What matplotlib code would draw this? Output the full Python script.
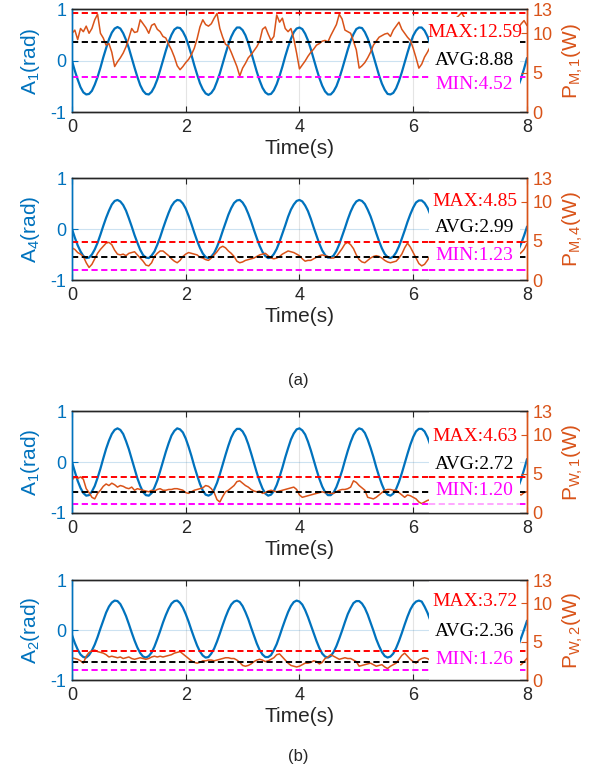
import numpy as np
import matplotlib
matplotlib.use("Agg")
import matplotlib.pyplot as plt
from matplotlib.patches import Rectangle

plt.rcParams['font.family'] = ['Liberation Sans', 'DejaVu Sans']
plt.rcParams['mathtext.fontset'] = 'custom'
plt.rcParams['mathtext.rm'] = 'Liberation Sans'
plt.rcParams['mathtext.it'] = 'Liberation Sans:italic'
plt.rcParams['axes.unicode_minus'] = False

BLUE = '#0072BD'
ORANGE = '#D95319'
DARK = '#262626'

######################
# Data (sampled every 0.05 s)
######################

t = np.linspace(0, 8, 161)

# joint angles (rad)
a_m1 = [0.00, -0.19, -0.36, -0.51, -0.61, -0.65, -0.64, -0.58, -0.46, -0.31,
        -0.13, 0.07, 0.25, 0.42, 0.55, 0.63, 0.66, 0.63, 0.54, 0.41,
        0.25, 0.06, -0.13, -0.31, -0.47, -0.58, -0.64, -0.65, -0.60, -0.50,
        -0.36, -0.18, 0.01, 0.20, 0.37, 0.51, 0.61, 0.65, 0.64, 0.57,
        0.46, 0.30, 0.12, -0.08, -0.26, -0.43, -0.55, -0.63, -0.66, -0.62,
        -0.54, -0.40, -0.24, -0.05, 0.14, 0.32, 0.47, 0.58, 0.65, 0.65,
        0.60, 0.50, 0.35, 0.17, -0.02, -0.21, -0.38, -0.52, -0.61, -0.65,
        -0.64, -0.57, -0.45, -0.29, -0.11, 0.09, 0.27, 0.43, 0.56, 0.63,
        0.65, 0.62, 0.53, 0.40, 0.23, 0.04, -0.15, -0.33, -0.48, -0.59,
        -0.65, -0.65, -0.59, -0.49, -0.34, -0.16, 0.03, 0.22, 0.39, 0.52,
        0.62, 0.65, 0.64, 0.56, 0.44, 0.28, 0.10, -0.09, -0.28, -0.44,
        -0.56, -0.64, -0.65, -0.62, -0.53, -0.39, -0.22, -0.03, 0.16, 0.34,
        0.49, 0.59, 0.65, 0.65, 0.59, 0.48, 0.33, 0.16, -0.04, -0.23,
        -0.39, -0.53, -0.62, -0.65, -0.63, -0.56, -0.43, -0.27, -0.09, 0.10,
        0.29, 0.45, 0.57, 0.64, 0.65, 0.61, 0.52, 0.38, 0.21, 0.02,
        -0.17, -0.35, -0.49, -0.60, -0.65, -0.65, -0.59, -0.48, -0.33, -0.15,
        0.05]
a_m4 = [0.00, -0.17, -0.32, -0.44, -0.53, -0.57, -0.56, -0.50, -0.40, -0.27,
        -0.11, 0.06, 0.22, 0.36, 0.48, 0.55, 0.57, 0.54, 0.47, 0.36,
        0.21, 0.05, -0.12, -0.27, -0.41, -0.51, -0.56, -0.57, -0.52, -0.44,
        -0.31, -0.16, 0.01, 0.17, 0.32, 0.45, 0.53, 0.57, 0.56, 0.50,
        0.40, 0.26, 0.10, -0.07, -0.23, -0.37, -0.48, -0.55, -0.57, -0.54,
        -0.47, -0.35, -0.21, -0.04, 0.12, 0.28, 0.41, 0.51, 0.56, 0.57,
        0.52, 0.43, 0.30, 0.15, -0.02, -0.18, -0.33, -0.45, -0.53, -0.57,
        -0.56, -0.49, -0.39, -0.25, -0.09, 0.07, 0.24, 0.38, 0.48, 0.55,
        0.57, 0.54, 0.46, 0.35, 0.20, 0.03, -0.13, -0.29, -0.42, -0.51,
        -0.56, -0.56, -0.52, -0.43, -0.30, -0.14, 0.02, 0.19, 0.34, 0.46,
        0.54, 0.57, 0.55, 0.49, 0.38, 0.25, 0.09, -0.08, -0.24, -0.38,
        -0.49, -0.55, -0.57, -0.54, -0.46, -0.34, -0.19, -0.03, 0.14, 0.29,
        0.42, 0.52, 0.56, 0.56, 0.51, 0.42, 0.29, 0.14, -0.03, -0.20,
        -0.34, -0.46, -0.54, -0.57, -0.55, -0.49, -0.38, -0.24, -0.08, 0.09,
        0.25, 0.39, 0.49, 0.55, 0.57, 0.53, 0.45, 0.33, 0.18, 0.02,
        -0.15, -0.30, -0.43, -0.52, -0.57, -0.56, -0.51, -0.41, -0.28, -0.13,
        0.04]
a_w1 = [0.00, -0.19, -0.37, -0.51, -0.61, -0.66, -0.65, -0.58, -0.47, -0.31,
        -0.13, 0.07, 0.26, 0.42, 0.55, 0.63, 0.66, 0.63, 0.55, 0.41,
        0.25, 0.06, -0.13, -0.32, -0.47, -0.59, -0.65, -0.66, -0.61, -0.50,
        -0.36, -0.18, 0.01, 0.20, 0.37, 0.52, 0.61, 0.66, 0.64, 0.58,
        0.46, 0.30, 0.12, -0.08, -0.26, -0.43, -0.56, -0.64, -0.66, -0.63,
        -0.54, -0.41, -0.24, -0.05, 0.14, 0.32, 0.48, 0.59, 0.65, 0.65,
        0.60, 0.50, 0.35, 0.17, -0.02, -0.21, -0.38, -0.52, -0.62, -0.66,
        -0.64, -0.57, -0.45, -0.29, -0.11, 0.09, 0.27, 0.44, 0.56, 0.64,
        0.66, 0.62, 0.54, 0.40, 0.23, 0.04, -0.15, -0.33, -0.48, -0.59,
        -0.65, -0.65, -0.60, -0.49, -0.34, -0.17, 0.03, 0.22, 0.39, 0.53,
        0.62, 0.66, 0.64, 0.57, 0.44, 0.28, 0.10, -0.10, -0.28, -0.44,
        -0.57, -0.64, -0.66, -0.62, -0.53, -0.39, -0.22, -0.03, 0.16, 0.34,
        0.49, 0.60, 0.65, 0.65, 0.60, 0.49, 0.34, 0.16, -0.04, -0.23,
        -0.40, -0.53, -0.62, -0.66, -0.64, -0.56, -0.44, -0.28, -0.09, 0.10,
        0.29, 0.45, 0.57, 0.64, 0.66, 0.62, 0.52, 0.39, 0.21, 0.02,
        -0.17, -0.35, -0.50, -0.60, -0.65, -0.65, -0.59, -0.48, -0.33, -0.15,
        0.05]
a_w2 = [-0.10, -0.26, -0.39, -0.49, -0.54, -0.55, -0.50, -0.41, -0.29, -0.14,
        0.03, 0.19, 0.35, 0.47, 0.55, 0.59, 0.58, 0.52, 0.41, 0.28,
        0.12, -0.05, -0.21, -0.35, -0.46, -0.53, -0.55, -0.52, -0.45, -0.33,
        -0.18, -0.02, 0.15, 0.30, 0.43, 0.53, 0.58, 0.59, 0.54, 0.45,
        0.32, 0.17, 0.00, -0.16, -0.31, -0.43, -0.51, -0.55, -0.54, -0.47,
        -0.37, -0.23, -0.07, 0.10, 0.26, 0.40, 0.51, 0.57, 0.59, 0.56,
        0.48, 0.36, 0.22, 0.05, -0.11, -0.27, -0.40, -0.49, -0.54, -0.54,
        -0.50, -0.40, -0.28, -0.12, 0.05, 0.21, 0.36, 0.48, 0.56, 0.59,
        0.57, 0.51, 0.40, 0.26, 0.10, -0.06, -0.22, -0.36, -0.47, -0.53,
        -0.55, -0.52, -0.44, -0.32, -0.17, -0.01, 0.16, 0.32, 0.44, 0.54,
        0.58, 0.58, 0.53, 0.44, 0.31, 0.15, -0.01, -0.18, -0.32, -0.44,
        -0.52, -0.55, -0.53, -0.47, -0.36, -0.22, -0.06, 0.11, 0.27, 0.41,
        0.51, 0.57, 0.59, 0.57, 0.47, 0.35, 0.20, 0.04, -0.13, -0.28,
        -0.41, -0.50, -0.55, -0.54, -0.49, -0.39, -0.26, -0.11, 0.06, 0.23,
        0.37, 0.49, 0.56, 0.59, 0.57, 0.50, 0.39, 0.25, 0.09, -0.08,
        -0.24, -0.38, -0.48, -0.54, -0.55, -0.51, -0.43, -0.30, -0.15, 0.01,
        0.18]

# power (W)
p_m1 = [10.0, 10.4, 9.2, 10.6, 10.2, 10.9, 10.0, 10.6, 11.7, 12.4, 10.0, 9.4, 8.5, 8.7, 7.6, 5.8, 6.4, 6.9, 7.5, 8.3,
        9.4, 10.6, 10.1, 10.2, 11.7, 11.2, 10.7, 10.0, 11.0, 11.2, 10.5, 10.2, 9.6, 9.4, 8.6, 7.9, 7.0, 5.9, 5.4, 5.8,
        6.3, 6.7, 7.3, 8.1, 9.3, 10.8, 11.7, 11.1, 10.9, 11.2, 11.9, 12.5, 10.6, 9.5, 8.6, 8.4, 7.6, 6.7, 5.8, 4.6,
        5.6, 6.2, 6.9, 7.3, 7.8, 8.3, 9.0, 10.5, 10.8, 9.9, 9.1, 9.6, 12.3, 11.4, 11.9, 10.6, 10.2, 10.6, 9.3, 7.5,
        5.5, 6.0, 6.5, 7.1, 7.6, 8.0, 8.5, 8.7, 9.0, 9.1, 8.9, 9.7, 10.4, 11.1, 12.4, 11.8, 10.4, 10.2, 10.0, 9.0,
        7.9, 5.6, 5.9, 6.3, 6.9, 7.6, 8.5, 9.0, 9.5, 9.7, 9.9, 10.0, 9.6, 10.4, 10.9, 11.4, 10.5, 10.0, 9.5, 9.1,
        8.1, 6.9, 5.6, 6.1, 7.0, 7.6, 8.3, 8.9, 9.5, 10.2, 10.6, 11.0, 10.7, 11.2, 11.6, 11.9, 12.2, 12.6, 12.0, 11.3,
        10.6, 9.8, 9.0, 8.2, 7.4, 6.6, 5.9, 5.2, 5.6, 6.2, 6.9, 7.6, 8.3, 8.8, 9.4, 9.9, 10.3, 10.7, 11.2, 11.6,
        11.0]
p_m4 = [4.1, 3.9, 3.5, 3.3, 3.0, 2.2, 1.6, 2.0, 2.7, 3.4, 3.9, 4.3, 4.7, 4.8, 4.5, 3.8, 3.3, 3.2, 3.3, 3.1,
        3.4, 3.5, 3.6, 3.2, 2.8, 2.4, 1.9, 1.8, 2.2, 3.0, 3.4, 3.7, 3.7, 3.4, 3.1, 2.7, 2.4, 2.2, 2.5, 3.0,
        3.3, 3.5, 3.4, 3.3, 3.2, 2.9, 2.8, 2.6, 2.5, 2.8, 3.2, 3.6, 4.1, 4.3, 4.1, 3.7, 3.4, 3.0, 2.4, 2.2,
        2.3, 2.5, 2.6, 2.7, 2.8, 3.0, 3.2, 3.3, 3.4, 3.1, 2.8, 2.7, 2.8, 3.0, 3.3, 3.5, 3.7, 3.6, 3.5, 3.3,
        3.1, 2.7, 2.4, 2.5, 2.5, 2.7, 2.9, 3.1, 3.2, 3.1, 3.0, 2.8, 2.8, 3.0, 3.5, 4.0, 4.6, 4.8, 4.5, 4.0,
        3.2, 2.6, 2.3, 2.2, 2.5, 2.8, 3.0, 3.1, 3.0, 2.8, 2.5, 2.3, 2.2, 2.3, 2.4, 2.8, 3.3, 4.1, 4.7, 4.2,
        3.5, 2.8, 2.1, 1.8, 2.0, 2.5, 3.1, 3.4, 3.6, 3.5, 3.2, 3.0, 2.7, 2.5, 2.4, 2.6, 2.9, 3.2, 3.5, 3.7,
        3.6, 3.3, 3.0, 2.7, 2.5, 2.3, 2.4, 2.7, 3.0, 3.2, 3.4, 3.3, 3.0, 2.7, 2.5, 2.6, 2.9, 3.2, 3.5, 3.9,
        4.6]
p_w1 = [4.2, 4.6, 4.4, 4.6, 4.3, 3.1, 2.6, 2.0, 1.8, 2.5, 2.9, 3.4, 3.7, 3.5, 3.8, 3.6, 3.3, 3.5, 3.4, 3.2,
        3.1, 3.3, 2.9, 3.1, 3.0, 2.9, 2.8, 2.7, 2.9, 2.8, 3.0, 3.1, 2.9, 2.9, 3.0, 3.0, 3.1, 3.1, 3.0, 2.9,
        2.6, 2.5, 2.7, 2.9, 3.0, 3.1, 3.2, 3.5, 3.4, 3.1, 2.6, 1.7, 1.4, 2.1, 2.7, 2.9, 3.2, 3.5, 4.0, 4.1,
        3.8, 3.5, 3.3, 3.0, 2.8, 2.7, 2.8, 2.5, 2.6, 2.8, 2.9, 2.8, 2.7, 2.8, 2.9, 3.0, 3.1, 3.2, 3.3, 3.0,
        2.3, 2.0, 2.1, 2.2, 2.3, 2.4, 2.5, 2.6, 2.7, 2.6, 2.6, 2.5, 2.5, 2.7, 2.9, 3.0, 3.0, 3.1, 3.3, 4.1,
        3.9, 3.5, 3.2, 2.9, 2.0, 1.9, 1.8, 2.0, 2.3, 2.6, 2.9, 3.0, 3.0, 2.9, 2.9, 2.6, 2.3, 2.0, 2.3, 2.2,
        2.0, 1.8, 1.4, 1.2, 1.4, 1.6, 1.7, 2.0, 2.4, 2.7, 3.0, 3.2, 3.1, 2.9, 2.7, 2.6, 2.8, 3.0, 3.3, 3.5,
        3.4, 3.1, 2.8, 2.5, 2.2, 2.0, 2.1, 2.4, 2.7, 3.0, 3.2, 3.1, 2.9, 2.7, 2.5, 2.4, 2.5, 2.4, 2.3, 2.6,
        2.7]
p_w2 = [2.9, 2.8, 2.7, 2.5, 2.2, 3.1, 3.6, 3.8, 3.9, 3.7, 3.6, 3.5, 3.3, 3.0, 3.1, 3.0, 2.9, 3.0, 2.8, 2.9,
        3.0, 2.8, 2.7, 2.8, 2.9, 2.8, 2.7, 2.8, 3.0, 3.1, 3.0, 3.1, 3.0, 3.1, 3.2, 3.3, 3.5, 3.6, 3.7, 3.4,
        3.1, 2.8, 2.5, 2.3, 2.2, 2.3, 2.5, 2.5, 2.6, 2.6, 2.5, 2.6, 2.7, 2.8, 2.9, 2.9, 2.8, 2.8, 2.6, 2.3,
        1.9, 1.8, 1.9, 2.1, 2.4, 2.6, 2.7, 2.6, 2.4, 2.5, 2.7, 2.9, 3.3, 3.4, 3.0, 2.6, 2.2, 1.9, 1.8, 1.7,
        1.8, 2.0, 2.2, 2.2, 2.3, 2.5, 2.4, 2.1, 2.3, 2.8, 3.0, 3.3, 3.1, 2.9, 2.7, 2.8, 2.9, 2.8, 2.8, 2.6,
        2.4, 1.8, 1.9, 2.0, 2.1, 2.2, 2.0, 1.8, 1.9, 2.0, 1.7, 1.5, 1.8, 2.0, 2.2, 2.7, 3.2, 3.5, 3.1, 2.7,
        2.4, 2.2, 2.6, 2.8, 2.9, 2.8, 2.6, 2.4, 2.2, 2.3, 2.5, 2.7, 2.9, 3.0, 2.8, 2.6, 2.4, 2.2, 2.1, 2.3,
        2.5, 2.7, 2.8, 2.7, 2.5, 2.3, 2.2, 2.4, 2.6, 2.8, 2.7, 2.5, 2.3, 2.2, 2.1, 2.0, 2.1, 2.0, 2.0, 2.4,
        2.8]

angles = [a_m1, a_m4, a_w1, a_w2]
powers = [p_m1, p_m4, p_w1, p_w2]
stats = [(12.59, 8.88, 4.52), (4.85, 2.99, 1.23), (4.63, 2.72, 1.20), (3.72, 2.36, 1.26)]
left_labels = [r'A$_{1}$(rad)', r'A$_{4}$(rad)', r'A$_{1}$(rad)', r'A$_{2}$(rad)']
right_labels = [r'P$_{\mathrm{M,1}}$(W)', r'P$_{\mathrm{M,4}}$(W)',
                r'P$_{\mathrm{W,1}}$(W)', r'P$_{\mathrm{W,2}}$(W)']

######################
# Layout
######################

positions = [(0.1206, 0.8543, 0.762, 0.1334),
             (0.1206, 0.6373, 0.762, 0.1321),
             (0.1206, 0.3355, 0.762, 0.1321),
             (0.1206, 0.1191, 0.762, 0.1295)]
# y positions (right axis) of MAX / AVG / MIN labels
label_y = [(10.1, 6.6, 3.5), (10.0, 6.7, 3.1), (9.8, 6.2, 2.9), (10.2, 6.3, 2.7)]
# white box behind labels: top (right-axis units)
box_top = [12.1, 12.95, 12.95, 12.95]
# alpha of the ref lines that show through the box (max, avg, min)
through = [(0, 0, 0), (1, 0, 1), (1, 0, 0.35), (0, 0, 0)]
stat_colors = ['#FF0000', 'black', '#FF00FF']
stat_names = ['MAX', 'AVG', 'MIN']

fig = plt.figure(figsize=(5.97, 7.72), dpi=100)

for i in range(4):
    ax = fig.add_axes(positions[i])
    ax2 = ax.twinx()

    ax.plot(t, angles[i], color=BLUE, lw=1.6)
    ax.set_xlim(0, 8)
    ax.set_ylim(-1, 1)
    ax.set_xticks([0, 2, 4, 6, 8])
    ax.set_yticks([-1, 0, 1])
    ax.set_axisbelow(True)
    ax.grid(True, axis='x', color=DARK, alpha=0.12, lw=0.8)
    ax.grid(True, axis='y', color=BLUE, alpha=0.2, lw=0.8)
    ax.tick_params(axis='x', direction='in', top=True, length=4, color=DARK,
                   labelcolor=DARK, labelsize=13, pad=5)
    ax.tick_params(axis='y', direction='in', length=4, color=BLUE,
                   labelcolor=BLUE, labelsize=13, pad=4)
    ax.set_ylabel(left_labels[i], color=BLUE, fontsize=15, labelpad=6)
    ax.set_xlabel('Time(s)', color=DARK, fontsize=15, labelpad=2)

    ax2.plot(t, powers[i], color=ORANGE, lw=1.1, zorder=1.2)
    ax2.set_ylim(0, 13)
    ax2.set_yticks([0, 5, 10, 13])
    ax2.tick_params(axis='y', direction='in', length=4, color=ORANGE,
                    labelcolor=ORANGE, labelsize=13, pad=4)
    ax2.set_ylabel(right_labels[i], color=ORANGE, fontsize=15, labelpad=6)

    for a in (ax, ax2):
        a.spines['left'].set_color(BLUE)
        a.spines['right'].set_color(ORANGE)
        a.spines['top'].set_color(DARK)
        a.spines['bottom'].set_color(DARK)
        for s in a.spines.values():
            s.set_linewidth(1.0)

    for k in range(3):
        ax2.axhline(stats[i][k], color=stat_colors[k], lw=1.4,
                    dashes=(3.2, 1.8), zorder=1.3)

    # white box behind the MAX / AVG / MIN labels
    ax2.add_patch(Rectangle((6.27, 0.05), 7.88 - 6.27, box_top[i] - 0.05,
                            facecolor='white', edgecolor='none', zorder=1.8))
    for k in range(3):
        if through[i][k] > 0:
            ax2.plot([6.27, 7.88], [stats[i][k]] * 2, color=stat_colors[k],
                     lw=1.4, dashes=(3.2, 1.8), alpha=through[i][k], zorder=1.9)

    for k in range(3):
        ax2.text(7.08, label_y[i][k], f'{stat_names[k]}:{stats[i][k]:.2f}',
                 color=stat_colors[k], fontsize=14, family='Liberation Serif',
                 ha='center', va='center', zorder=3)

fig.text(0.5, 1 - 380 / 772, '(a)', ha='center', va='center', fontsize=12, color=DARK)
fig.text(0.5, 1 - 757 / 772, '(b)', ha='center', va='center', fontsize=12, color=DARK)

fig.savefig('out.png', dpi=100)
plt.close()
